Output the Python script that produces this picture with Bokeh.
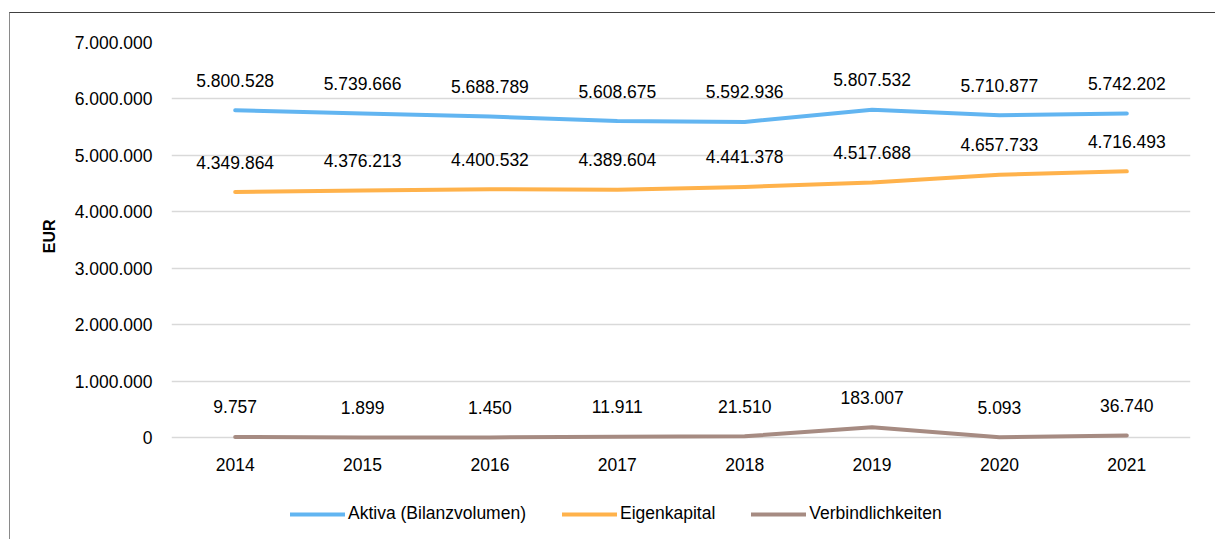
from bokeh.plotting import figure
from bokeh.models import (ColumnDataSource, LabelSet, Legend, LegendItem, Title,
                          FactorRange, Range1d, FixedTicker, CustomJSTickFormatter)
from bokeh.core.properties import value
from bokeh.embed import file_html
from bokeh.resources import INLINE

years = ["2014", "2015", "2016", "2017", "2018", "2019", "2020", "2021"]
aktiva = [5800528, 5739666, 5688789, 5608675, 5592936, 5807532, 5710877, 5742202]
eigenkapital = [4349864, 4376213, 4400532, 4389604, 4441378, 4517688, 4657733, 4716493]
verbindlichkeiten = [9757, 1899, 1450, 11911, 21510, 183007, 5093, 36740]
series_names = ["Aktiva (Bilanzvolumen)", "Eigenkapital", "Verbindlichkeiten"]
colors = ["#62B5F1", "#FFB24B", "#A68B82"]
y_ticks = [0, 1000000, 2000000, 3000000, 4000000, 5000000, 6000000, 7000000]
y_title = "EUR"

FONT = "Liberation Sans"
FS = "17.5px"

# layout: 395 px of frame for 0..7.000.000, plus 102 px below zero for x labels and legend
PLOT_PX = 395
BELOW_PX = 102
Y_MAX = 7000000
Y_MIN = -Y_MAX * BELOW_PX / PLOT_PX


def de_fmt(v):
    return f"{v:,}".replace(",", ".")


p = figure(x_range=FactorRange(*years), y_range=Range1d(Y_MIN, Y_MAX),
           frame_width=1019, frame_height=PLOT_PX + BELOW_PX,
           output_backend="svg", toolbar_location=None,
           min_border_left=161, min_border_right=25, min_border_top=29,
           min_border_bottom=0)
p.margin = (12, 0, 0, 9)
p.styles = {"border-top": "1px solid #404040", "border-left": "1px solid #8a8a8a"}
p.outline_line_color = None
p.background_fill_color = "white"
p.border_fill_color = "white"

# axes
p.xaxis.fixed_location = 0
p.xaxis.axis_line_color = None
p.xaxis.major_tick_line_color = None
p.xaxis.minor_tick_line_color = None
p.xaxis.major_tick_out = 0
p.xaxis.major_tick_in = 0
p.xaxis.major_label_standoff = 20
p.xaxis.major_label_text_font = FONT
p.xaxis.major_label_text_font_size = FS
p.xaxis.major_label_text_color = "black"
p.xgrid.grid_line_color = None

p.yaxis.bounds = (0, Y_MAX)
p.yaxis.ticker = FixedTicker(ticks=y_ticks)
p.yaxis.formatter = CustomJSTickFormatter(
    code="return Math.round(tick).toString().replace(/\\B(?=(\\d{3})+(?!\\d))/g, '.');")
p.yaxis.axis_line_color = None
p.yaxis.major_tick_line_color = None
p.yaxis.minor_tick_line_color = None
p.yaxis.major_tick_out = 0
p.yaxis.major_label_standoff = 19
p.yaxis.major_label_text_font = FONT
p.yaxis.major_label_text_font_size = FS
p.yaxis.major_label_text_color = "black"
p.ygrid.grid_line_color = "#d9d9d9"
p.ygrid.grid_line_width = 1.5

# vertical axis title, placed beside the 0..7.000.000 part of the axis
p.add_layout(Title(text=y_title, align="right", offset=177, standoff=27,
                   vertical_align="bottom", text_font=FONT,
                   text_font_size="16px", text_font_style="bold",
                   text_color="black"), "left")

items = []
for name, vals, col in zip(series_names, [aktiva, eigenkapital, verbindlichkeiten], colors):
    src = ColumnDataSource(dict(x=years, y=vals, lbl=[de_fmt(v) for v in vals]))
    r = p.line("x", "y", source=src, line_color=col, line_width=4,
               line_cap="round", line_join="round")
    labels = LabelSet(x="x", y="y", text="lbl", source=src, y_offset=30,
                      text_align="center", text_baseline="middle",
                      text_font=value(FONT), text_font_size=FS, text_color="black")
    p.add_layout(labels)
    items.append(LegendItem(label=name, renderers=[r]))

legend = Legend(items=items, orientation="horizontal", location=(119, 15),
                glyph_width=55, glyph_height=20, label_standoff=3, spacing=36,
                padding=0, margin=0, border_line_color=None,
                background_fill_alpha=0, label_text_font=FONT,
                label_text_font_size=FS, label_text_color="black")
p.add_layout(legend, "center")

open("out.html", "w").write(file_html(p, INLINE))
